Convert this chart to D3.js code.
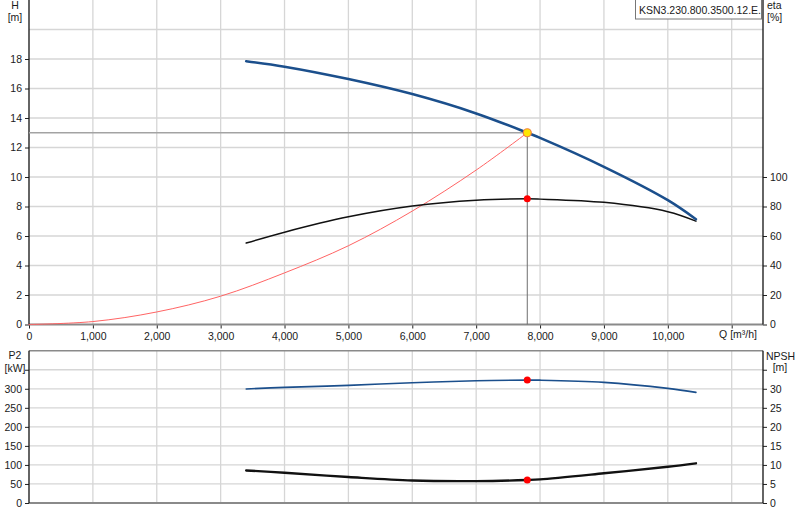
<!doctype html>
<html lang="en">
<head>
<meta charset="UTF-8">
<title>Pump curve</title>
<script src="https://d3js.org/d3.v7.min.js"></script>
<style>
  body { margin: 0; background: #fff; }
  text { font-family: "Liberation Sans", Arial, sans-serif; font-size: 10.5px; fill: #1a1a1a; }
</style>
</head>
<body>
<div id="chart"></div>
<script>
// flow values for the pump curves (m3/h)
var qPump = [3400, 4000, 5000, 6000, 7000, 7800, 8000, 9000, 10000, 10440];
var head  = [17.85, 17.48, 16.64, 15.62, 14.31, 13.0, 12.65, 10.69, 8.43, 7.14];
var eta   = [55.2, 62.6, 73.0, 80.3, 84.3, 85.2, 85.0, 82.8, 76.5, 70.1];
var p2    = [299.5, 303.7, 308.9, 315.8, 321.0, 322.8, 322.6, 316.8, 301.0, 290.6];
var npsh  = [8.55, 7.95, 6.82, 5.9, 5.75, 6.04, 6.2, 7.8, 9.53, 10.42];

// system curve
var qSys = [0, 1000, 2000, 3000, 4000, 5000, 6000, 7000, 7800];
var hSys = [0, 0.2, 0.85, 1.92, 3.5, 5.34, 7.69, 10.47, 13.0];

// duty point
var dutyQ = 7800, dutyH = 13.0, dutyEta = 85.2, dutyP2 = 322.8, dutyNpsh = 6.04;

// tick labels
var qTicks = [0, 1000, 2000, 3000, 4000, 5000, 6000, 7000, 8000, 9000, 10000];
var hTicks = [0, 2, 4, 6, 8, 10, 12, 14, 16, 18];
var etaTicks = [0, 20, 40, 60, 80, 100];
var p2Ticks = [0, 50, 100, 150, 200, 250, 300];
var npshTicks = [0, 5, 10, 15, 20, 25, 30];
var productName = "KSN3.230.800.3500.12.E.";

var width = 800, height = 520;
var left = 29, right = 763;

var svg = d3.select("#chart").append("svg")
    .attr("width", width)
    .attr("height", height);

svg.append("rect").attr("width", width).attr("height", height).attr("fill", "#fff");

var x = d3.scaleLinear().domain([0, 11490]).range([left, right]);

// top chart
var topY0 = 324.5, topY1 = 0;
var yH = d3.scaleLinear().domain([0, 22]).range([topY0, topY1]);
var yEta = d3.scaleLinear().domain([0, 220]).range([topY0, topY1]);

// bottom chart
var botY0 = 503, botY1 = 350.7;
var yP = d3.scaleLinear().domain([0, 400]).range([botY0, botY1]);
var yN = d3.scaleLinear().domain([0, 40]).range([botY0, botY1]);

var gridColor = "#d6d6d6";

function grid(yScale, yTickVals, y0, y1) {
    var g = svg.append("g");
    g.selectAll("line.v").data(d3.range(1000, 11001, 1000)).enter().append("line")
        .attr("x1", function(d){ return x(d); }).attr("x2", function(d){ return x(d); })
        .attr("y1", y0).attr("y2", y1)
        .attr("stroke", gridColor).attr("stroke-width", 1.3);
    g.selectAll("line.h").data(yTickVals).enter().append("line")
        .attr("x1", left).attr("x2", right)
        .attr("y1", function(d){ return yScale(d); }).attr("y2", function(d){ return yScale(d); })
        .attr("stroke", gridColor).attr("stroke-width", 1.3);
}

grid(yH, d3.range(2, 21, 2), topY0, topY1);
grid(yP, d3.range(50, 351, 50), botY0, botY1);

// ---- top chart axes
svg.append("g")
    .attr("transform", "translate(" + left + ",0)")
    .call(d3.axisLeft(yH).tickValues(hTicks).tickSize(4).tickPadding(3))
    .call(function(g){ g.select(".domain").remove(); });

svg.append("g")
    .attr("transform", "translate(" + right + ",0)")
    .call(d3.axisRight(yEta).tickValues(etaTicks).tickSize(4).tickPadding(3))
    .call(function(g){ g.select(".domain").remove(); });

svg.append("g")
    .attr("transform", "translate(0," + topY0 + ")")
    .call(d3.axisBottom(x).tickValues(qTicks.concat([11000])).tickSize(4).tickPadding(4)
        .tickFormat(function(d){ return d === 11000 ? "" : d3.format(",")(d); }))
    .call(function(g){ g.select(".domain").remove(); });

// ---- bottom chart axes
svg.append("g")
    .attr("transform", "translate(" + left + ",0)")
    .call(d3.axisLeft(yP).tickValues(p2Ticks.concat([350])).tickSize(4).tickPadding(3)
        .tickFormat(function(d){ return d === 350 ? "" : d; }))
    .call(function(g){ g.select(".domain").remove(); });

svg.append("g")
    .attr("transform", "translate(" + right + ",0)")
    .call(d3.axisRight(yN).tickValues(npshTicks.concat([35])).tickSize(4).tickPadding(3)
        .tickFormat(function(d){ return d === 35 ? "" : d; }))
    .call(function(g){ g.select(".domain").remove(); });

svg.selectAll(".tick line").attr("stroke", "#222");
svg.selectAll(".tick text").attr("fill", "#1a1a1a")
    .style("font-family", "'Liberation Sans', Arial, sans-serif").style("font-size", "10.5px");

// frame lines
svg.append("line").attr("x1", left).attr("x2", right).attr("y1", topY0).attr("y2", topY0)
    .attr("stroke", "#8a8a8a").attr("stroke-width", 2);
svg.append("line").attr("x1", left).attr("x2", left).attr("y1", topY1).attr("y2", topY0)
    .attr("stroke", "#111").attr("stroke-width", 1.3);
svg.append("line").attr("x1", right).attr("x2", right).attr("y1", topY1).attr("y2", topY0)
    .attr("stroke", "#111").attr("stroke-width", 1.3);

svg.append("line").attr("x1", left).attr("x2", right).attr("y1", botY0).attr("y2", botY0)
    .attr("stroke", "#8a8a8a").attr("stroke-width", 2);
svg.append("line").attr("x1", left).attr("x2", right).attr("y1", botY1).attr("y2", botY1)
    .attr("stroke", "#8a8a8a").attr("stroke-width", 1.5);
svg.append("line").attr("x1", left).attr("x2", left).attr("y1", botY1).attr("y2", botY0)
    .attr("stroke", "#111").attr("stroke-width", 1.3);
svg.append("line").attr("x1", right).attr("x2", right).attr("y1", botY1).attr("y2", botY0)
    .attr("stroke", "#111").attr("stroke-width", 1.3);

// duty point guide lines
svg.append("line").attr("x1", left).attr("x2", x(dutyQ))
    .attr("y1", yH(dutyH)).attr("y2", yH(dutyH))
    .attr("stroke", "#a3a3a3").attr("stroke-width", 1.5);
svg.append("line").attr("x1", x(dutyQ)).attr("x2", x(dutyQ))
    .attr("y1", yH(dutyH)).attr("y2", topY0)
    .attr("stroke", "#6e6e6e").attr("stroke-width", 1);

// curves
function drawCurve(xs, ys, yScale, color, w) {
    var pts = xs.map(function(q, i){ return [x(q), yScale(ys[i])]; });
    svg.append("path")
        .attr("d", d3.line().curve(d3.curveCatmullRom.alpha(0.5))(pts))
        .attr("fill", "none").attr("stroke", color).attr("stroke-width", w)
        .attr("stroke-linecap", "round");
}

drawCurve(qSys, hSys, yH, "#ff6464", 1);
drawCurve(qPump, eta, yEta, "#111", 1.5);
drawCurve(qPump, head, yH, "#1b4f8c", 2.6);
drawCurve(qPump, p2, yP, "#1b4f8c", 1.6);
drawCurve(qPump, npsh, yN, "#111", 2.4);

// markers
svg.append("circle").attr("cx", x(dutyQ)).attr("cy", yEta(dutyEta)).attr("r", 3.5).attr("fill", "#ff0000");
svg.append("circle").attr("cx", x(dutyQ)).attr("cy", yP(dutyP2)).attr("r", 3.5).attr("fill", "#ff0000");
svg.append("circle").attr("cx", x(dutyQ)).attr("cy", yN(dutyNpsh)).attr("r", 3.5).attr("fill", "#ff0000");
svg.append("circle").attr("cx", x(dutyQ)).attr("cy", yH(dutyH)).attr("r", 4)
    .attr("fill", "#ffe600").attr("stroke", "#f08040").attr("stroke-width", 1.2);

// axis titles
function label(txt, xx, yy, anchor) {
    svg.append("text").attr("x", xx).attr("y", yy).attr("text-anchor", anchor || "middle").text(txt);
}
label("H", 15, 9);
label("[m]", 15, 21);
label("eta", 767, 9, "start");
label("[%]", 767, 21, "start");
label("Q [m\u00b3/h]", 757, 338, "end");
label("P2", 15, 359);
label("[kW]", 15, 372);
label("NPSH", 766, 360, "start");
label("[m]", 780, 371);

// product label box
svg.append("rect").attr("x", 635.5).attr("y", -1).attr("width", 126).attr("height", 20)
    .attr("fill", "#fff").attr("stroke", "#777").attr("stroke-width", 1);
label(productName, 639, 14, "start");
</script>
</body>
</html>
